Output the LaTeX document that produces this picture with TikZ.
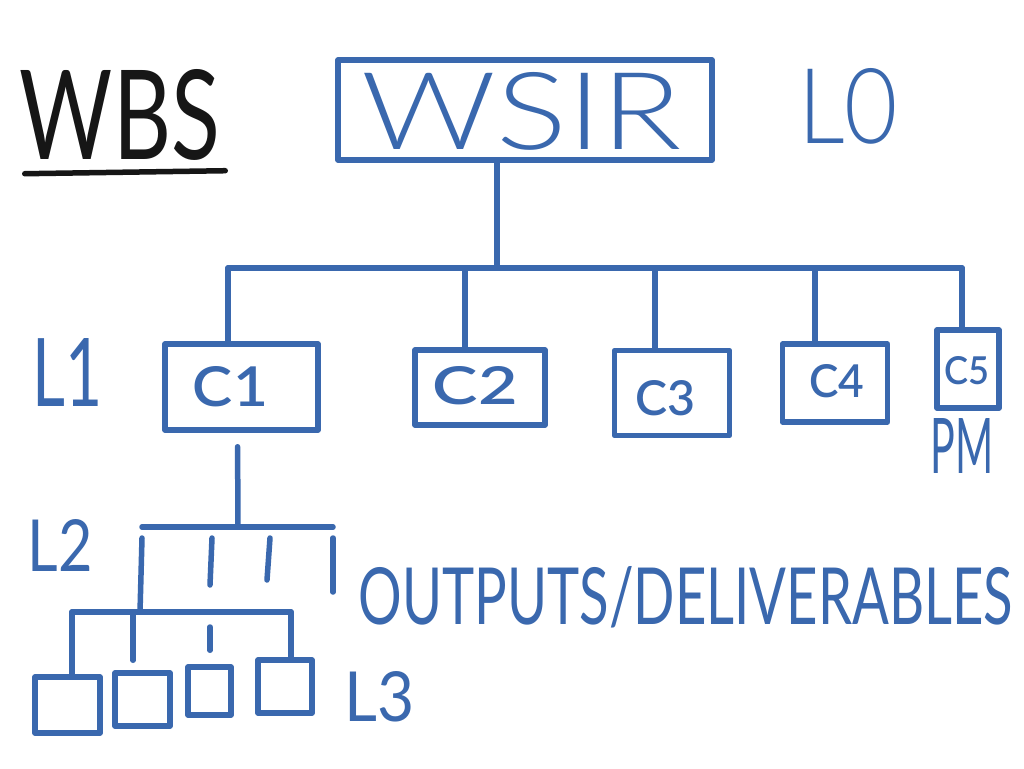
\documentclass[tikz,border=0pt]{standalone}
\usepackage{fontspec}
\setmainfont{Lato}[UprightFont=* Light]
\newfontfamily\penreg{Lato}
\newfontfamily\penbold{Lato}[UprightFont=* Semibold]
\usepackage{graphicx}
\definecolor{pen}{RGB}{58,104,174}
\definecolor{ink}{RGB}{22,22,22}
\newcommand\fitbox[3]{\resizebox{#1pt}{#2pt}{#3}}
\begin{document}
\begin{tikzpicture}[x=1pt,y=-1pt, line cap=round, line join=round,
  wire/.style={draw=pen, line width=5.5pt},
  box/.style={draw=pen, line width=5.5pt, inner sep=0pt, rectangle},
  txt/.style={inner sep=0pt, text=pen},
  reg/.style={txt, font=\penreg},
  heavy/.style={txt, font=\penbold}]
\useasboundingbox[fill=white] (0,0) rectangle (1024,768);

% title
\node[reg, text=ink] (wbs) at (120,115) {\fitbox{200}{90}{WBS}};
\draw[ink, line width=5.5pt] ([xshift=5pt,yshift=-13pt]wbs.south west) -- ([xshift=5pt,yshift=-10pt]wbs.south east);

% level 0
\node[box, minimum width=374pt, minimum height=100pt] (wsir) at (525,110) {};
\node[txt] (wsirt) at (522,111) {\fitbox{320}{77}{WSIR}};
\node[txt] (l0) at (848,106) {\fitbox{100}{75}{L0}};

% level 1
\node[reg] (l1) at (68,372) {\fitbox{70}{68}{L1}};
\node[box, minimum width=153pt, minimum height=86pt] (c1) at (241.5,387) {};
\node[heavy] (c1t) at (230.5,387) {\fitbox{75}{40}{C1}};
\node[box, minimum width=130pt, minimum height=75pt] (c2) at (480,387.5) {};
\node[heavy] (c2t) at (475.5,386) {\fitbox{85}{38}{C2}};
\node[box, minimum width=115pt, minimum height=85pt] (c3) at (672,393) {};
\node[heavy] (c3t) at (665,398) {\fitbox{60}{35}{C3}};
\node[box, minimum width=105pt, minimum height=78pt] (c4) at (835,383) {};
\node[heavy] (c4t) at (837,381) {\fitbox{55}{33}{C4}};
\node[box, minimum width=62pt, minimum height=78pt] (c5) at (968,369) {};
\node[heavy] (c5t) at (967,371) {\fitbox{45}{28}{C5}};
\node[reg] (pm) at (962,446) {\fitbox{63}{55}{PM}};

% bus level 0 -> 1
\coordinate (j0) at (497,268);
\coordinate (t1) at (228,268);
\coordinate (t2) at (465,268);
\coordinate (t3) at (655,268);
\coordinate (t4) at (815,268);
\coordinate (t5) at (962,268);
\draw[wire] ([xshift=-28pt]wsir.south) -- (j0);
\draw[wire] (t1) -- (t5);
\draw[wire] (t1) -- (t1 |- c1.north);
\draw[wire] (t2) -- (t2 |- c2.north);
\draw[wire] (t3) -- (t3 |- c3.north);
\draw[wire] (t4) -- (t4 |- c4.north);
\draw[wire] (t5) -- (t5 |- c5.north);

% level 2
\node[reg] (l2) at (60,545) {\fitbox{65}{52}{L2}};
\coordinate (j1) at (238,527);
\coordinate (u1) at (142,527);
\coordinate (u2) at (212,527);
\coordinate (u3) at (270,527);
\coordinate (u4) at (333,527);
\draw[wire, shorten <=14pt] ([xshift=-4pt]c1.south) -- (j1);
\draw[wire] (u1) -- (u4);
\coordinate (v2) at (210,585);
\coordinate (v3) at (267,580);
\coordinate (v4) at (333,592);
\draw[wire] ([yshift=-11pt]u2) -- (v2);
\draw[wire] ([yshift=-11pt]u3) -- (v3);
\draw[wire] ([yshift=-11pt]u4) -- (v4);
\node[reg] (outs) at (686,597) {\fitbox{654}{58}{OUTPUTS/DELIVERABLES}};

% level 3
\coordinate (j2) at (140,612);
\coordinate (w1) at (72,612);
\coordinate (w2) at (133,612);
\coordinate (w3) at (210,612);
\coordinate (w4) at (291,612);
\draw[wire] ([yshift=-11pt]u1) -- (j2);
\draw[wire] (w1) -- (w4);
\node[box, minimum width=65pt, minimum height=56pt] (b1) at (67.5,705) {};
\node[box, minimum width=55pt, minimum height=53pt] (b2) at (142.5,699.5) {};
\node[box, minimum width=43pt, minimum height=48pt] (b3) at (209.5,691) {};
\node[box, minimum width=54pt, minimum height=53pt] (b4) at (285,686.5) {};
\draw[wire] (w1) -- (w1 |- b1.north);
\draw[wire, shorten >=10pt] (w2) -- (w2 |- b2.north);
\draw[wire, shorten <=15pt, shorten >=14pt] (w3) -- (w3 |- b3.north);
\draw[wire] (w4) -- (w4 |- b4.north);
\node[reg] (l3) at (380,697) {\fitbox{70}{50}{L3}};
\end{tikzpicture}
\end{document}
